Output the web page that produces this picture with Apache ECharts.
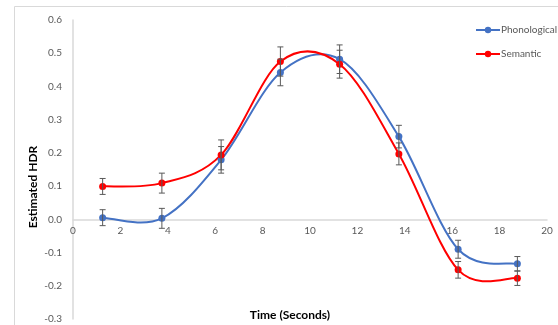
<!DOCTYPE html>
<html>
<head>
<meta charset="utf-8">
<script src="https://cdn.jsdelivr.net/npm/echarts@6/dist/echarts.min.js"></script>
<style>
  html, body { margin: 0; padding: 0; background: #fff; }
  #chart { width: 558px; height: 325px; }
</style>
</head>
<body>
<div id="chart"></div>
<script>
// time points (seconds)
var times = [1.25, 3.75, 6.25, 8.75, 11.25, 13.75, 16.25, 18.75]
var phonological = [0.005, 0.003, 0.179, 0.442, 0.482, 0.249, -0.09, -0.134]
var phonErr = [0.024, 0.03, 0.04, 0.04, 0.043, 0.034, 0.027, 0.022]
var semantic = [0.099, 0.109, 0.194, 0.475, 0.467, 0.197, -0.152, -0.177]
var semErr = [0.024, 0.03, 0.045, 0.044, 0.042, 0.033, 0.025, 0.022]

var blue = '#4472C4'
var red = '#FF0000'
var grey = '#595959'
var font = 'Lato, "Open Sans", sans-serif'

function pairs (vals) {
  return times.map(function (t, i) { return [t, vals[i]] })
}
function errData (vals, errs) {
  return times.map(function (t, i) { return [t, vals[i] - errs[i], vals[i] + errs[i]] })
}

function errorBars (params, api) {
  var lo = api.coord([api.value(0), api.value(1)])
  var hi = api.coord([api.value(0), api.value(2)])
  var cap = 3
  var style = { stroke: grey, lineWidth: 1 }
  return {
    type: 'group',
    children: [
      { type: 'line', shape: { x1: lo[0], y1: lo[1], x2: hi[0], y2: hi[1] }, style: style },
      { type: 'line', shape: { x1: lo[0] - cap, y1: lo[1], x2: lo[0] + cap, y2: lo[1] }, style: style },
      { type: 'line', shape: { x1: hi[0] - cap, y1: hi[1], x2: hi[0] + cap, y2: hi[1] }, style: style }
    ]
  }
}

// excel-like smoothed line: one bezier segment per point pair
function smoothCurve (vals, color) {
  return function (params, api) {
    var i = params.dataIndex
    var n = times.length
    if (i >= n - 1) return null
    var pt = function (k) {
      k = Math.max(0, Math.min(n - 1, k))
      return api.coord([times[k], vals[k]])
    }
    var p0 = pt(i - 1)
    var p1 = pt(i)
    var p2 = pt(i + 1)
    var p3 = pt(i + 2)
    return {
      type: 'bezierCurve',
      shape: {
        x1: p1[0], y1: p1[1],
        x2: p2[0], y2: p2[1],
        cpx1: p1[0] + (p2[0] - p0[0]) / 6,
        cpy1: p1[1] + (p2[1] - p0[1]) / 6,
        cpx2: p2[0] - (p3[0] - p1[0]) / 6,
        cpy2: p2[1] - (p3[1] - p1[1]) / 6
      },
      style: { stroke: color, lineWidth: 2, fill: null }
    }
  }
}

var chart = echarts.init(document.getElementById('chart'))
chart.setOption({
  animation: false,
  textStyle: { fontFamily: font },
  graphic: [{
    type: 'rect',
    shape: { x: 14.5, y: 6.5, width: 600, height: 400 },
    style: { fill: 'none', stroke: '#d9d9d9', lineWidth: 1 },
    z: -1
  }, {
    type: 'text',
    x: 33,
    y: 187,
    rotation: Math.PI / 2,
    style: {
      text: 'Estimated HDR',
      fill: '#000',
      font: 'bold 12px ' + font,
      align: 'center',
      verticalAlign: 'middle'
    }
  }, {
    type: 'text',
    x: 290,
    y: 315,
    style: {
      text: 'Time (Seconds)',
      fill: '#000',
      font: 'bold 12px ' + font,
      align: 'center',
      verticalAlign: 'middle'
    }
  }],
  legend: {
    orient: 'vertical',
    left: 470,
    top: 20,
    itemWidth: 24,
    itemHeight: 8,
    itemGap: 14,
    textStyle: { color: grey, fontSize: 10, padding: [0, 0, 0, -4] },
    data: [
      { name: 'Phonological', lineStyle: { color: blue, width: 2, opacity: 1 } },
      { name: 'Semantic', lineStyle: { color: red, width: 2, opacity: 1 } }
    ]
  },
  grid: { left: 73, right: 11, top: 20, bottom: 6, containLabel: false, outerBoundsMode: 'none' },
  xAxis: {
    type: 'value',
    min: 0,
    max: 20,
    interval: 2,
    offset: -99.67,
    axisLine: { onZero: false, lineStyle: { color: '#d9d9d9', width: 1.5 } },
    axisTick: { show: false },
    splitLine: { show: false },
    axisLabel: { color: grey, fontSize: 10, margin: 6 }
  },
  yAxis: {
    type: 'value',
    min: -0.3,
    max: 0.6,
    interval: 0.1,
    axisLine: { show: true, lineStyle: { color: '#d9d9d9', width: 1.5 } },
    axisTick: { show: false },
    splitLine: { show: false },
    axisLabel: {
      color: grey,
      fontSize: 10,
      margin: 11,
      formatter: function (v) { return v.toFixed(1) }
    }
  },
  series: [
    {
      type: 'custom',
      renderItem: smoothCurve(phonological, blue),
      data: pairs(phonological),
      encode: { x: 0, y: 1 },
      z: 2
    },
    {
      type: 'custom',
      renderItem: smoothCurve(semantic, red),
      data: pairs(semantic),
      encode: { x: 0, y: 1 },
      z: 2
    },
    {
      name: 'Phonological',
      type: 'line',
      data: pairs(phonological),
      symbol: 'circle',
      symbolSize: 7,
      lineStyle: { color: blue, width: 2, opacity: 0 },
      itemStyle: { color: blue },
      z: 3
    },
    {
      name: 'Semantic',
      type: 'line',
      data: pairs(semantic),
      symbol: 'circle',
      symbolSize: 7,
      lineStyle: { color: red, width: 2, opacity: 0 },
      itemStyle: { color: red },
      z: 3
    },
    {
      type: 'custom',
      renderItem: errorBars,
      data: errData(phonological, phonErr),
      encode: { x: 0, y: [1, 2] },
      z: 4
    },
    {
      type: 'custom',
      renderItem: errorBars,
      data: errData(semantic, semErr),
      encode: { x: 0, y: [1, 2] },
      z: 4
    }
  ]
})
</script>
</body>
</html>
